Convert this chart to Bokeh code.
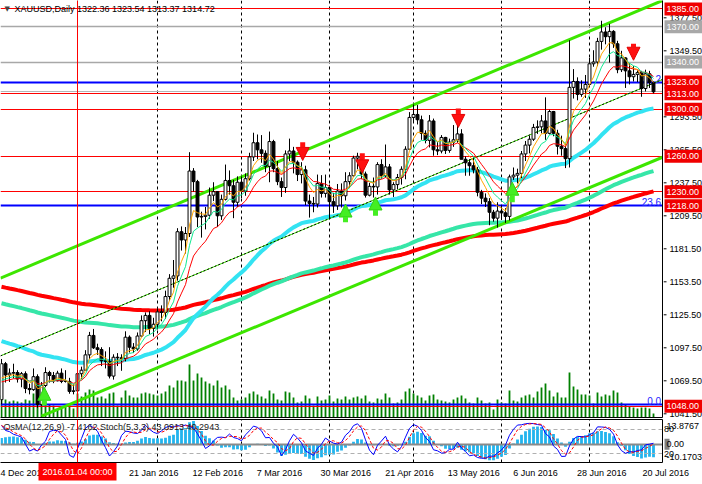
import numpy as np
from bokeh.plotting import figure
from bokeh.layouts import column, row
from bokeh.models import (Range1d, LinearAxis, FixedTicker, Label, Arrow, NormalHead, Span)
from bokeh.embed import file_html
from bokeh.resources import INLINE
from bokeh.core.properties import value

# ---------------- data (XAUUSD daily, 4 Dec 2015 .. 25 Jul 2016) ----------------
opens = [
1053.5, 1084.0, 1074.5, 1076.0, 1076.5, 1071.0, 1075.5, 1063.0, 1062.0, 1073.0,
1049.5, 1065.5, 1076.5, 1074.0, 1069.5, 1076.0, 1069.0, 1069.0, 1060.5, 1061.0,
1075.5, 1078.5, 1091.5, 1108.0, 1097.5, 1096.0, 1086.5, 1086.0, 1073.5, 1089.5,
1089.0, 1088.5, 1106.5, 1098.0, 1096.5, 1107.5, 1120.5, 1125.0, 1114.0, 1117.5,
1128.0, 1127.5, 1141.0, 1156.5, 1158.5, 1196.0, 1189.0, 1194.5, 1247.5, 1238.5,
1208.5, 1209.0, 1210.0, 1227.0, 1230.0, 1209.5, 1223.5, 1239.5, 1235.0, 1221.0,
1238.0, 1230.5, 1241.0, 1259.5, 1271.5, 1265.5, 1262.5, 1251.5, 1272.5, 1249.5,
1238.5, 1233.5, 1262.0, 1264.5, 1255.0, 1244.5, 1248.5, 1222.0, 1220.0, 1219.5,
1237.0, 1228.5, 1233.5, 1221.5, 1218.0, 1230.5, 1226.5, 1238.5, 1243.5, 1258.5,
1260.0, 1245.0, 1227.0, 1234.5, 1234.0, 1253.0, 1243.5, 1251.0, 1231.5, 1236.0,
1242.0, 1249.0, 1266.0, 1293.0, 1295.5, 1291.0, 1279.5, 1273.5, 1290.0, 1265.5,
1264.5, 1276.0, 1265.0, 1272.0, 1274.0, 1279.0, 1257.5, 1254.5, 1252.0, 1248.5,
1229.5, 1224.5, 1221.5, 1212.5, 1207.5, 1213.5, 1212.0, 1209.0, 1242.5, 1244.0,
1245.5, 1262.0, 1269.5, 1274.5, 1284.5, 1285.0, 1290.0, 1279.5, 1298.0, 1279.5,
1268.5, 1266.5, 1258.0, 1318.5, 1323.5, 1312.5, 1317.0, 1321.0, 1338.5, 1340.0,
1357.5, 1365.5, 1361.5, 1366.0, 1355.5, 1333.5, 1343.5, 1332.5, 1327.5, 1329.5,
1331.0, 1317.5, 1330.0, 1322.36]
highs = [
1088.0, 1085.5, 1080.0, 1084.0, 1078.5, 1077.0, 1077.5, 1067.0, 1080.0, 1075.0,
1068.5, 1081.0, 1078.0, 1077.0, 1078.0, 1080.0, 1078.5, 1072.0, 1066.5, 1082.5,
1081.5, 1095.5, 1111.0, 1113.5, 1101.0, 1098.0, 1094.5, 1098.0, 1092.0, 1093.0,
1092.0, 1111.5, 1108.0, 1101.5, 1110.5, 1125.0, 1127.5, 1128.5, 1123.0, 1131.0,
1133.5, 1146.0, 1160.0, 1172.0, 1199.0, 1200.5, 1200.0, 1263.5, 1250.0, 1240.0,
1213.0, 1217.0, 1233.5, 1238.0, 1230.5, 1227.5, 1253.0, 1248.0, 1240.0, 1243.0,
1243.0, 1245.5, 1263.0, 1280.0, 1278.5, 1278.0, 1265.0, 1281.0, 1274.0, 1256.0,
1242.0, 1265.0, 1275.0, 1268.0, 1256.5, 1255.0, 1252.0, 1227.5, 1225.5, 1244.5,
1244.0, 1244.5, 1236.0, 1229.0, 1236.5, 1237.0, 1246.5, 1246.5, 1260.5, 1263.0,
1262.0, 1247.0, 1237.5, 1242.0, 1255.0, 1257.5, 1270.0, 1253.5, 1238.0, 1245.0,
1251.5, 1268.5, 1297.5, 1304.0, 1303.5, 1294.5, 1282.0, 1295.0, 1292.0, 1272.0,
1278.0, 1276.5, 1275.0, 1286.5, 1290.5, 1283.0, 1260.0, 1257.5, 1259.0, 1251.0,
1231.5, 1228.5, 1224.5, 1214.5, 1221.0, 1218.5, 1216.0, 1244.5, 1250.5, 1249.5,
1264.5, 1273.0, 1277.5, 1287.5, 1290.5, 1295.0, 1310.0, 1299.5, 1298.5, 1282.5,
1277.5, 1270.5, 1358.5, 1334.0, 1327.0, 1324.5, 1329.0, 1343.5, 1350.0, 1360.5,
1375.0, 1369.5, 1372.5, 1367.0, 1358.0, 1349.5, 1344.0, 1339.0, 1336.5, 1333.0,
1332.5, 1333.5, 1332.5, 1323.54]
lows = [
1049.5, 1068.0, 1068.5, 1071.5, 1068.0, 1064.0, 1059.0, 1058.0, 1061.0, 1046.5,
1048.0, 1064.0, 1068.0, 1067.5, 1069.0, 1067.5, 1068.0, 1058.5, 1058.0, 1060.5,
1071.0, 1078.0, 1088.0, 1096.5, 1091.5, 1082.0, 1080.0, 1071.5, 1070.5, 1082.0,
1078.0, 1086.0, 1093.5, 1093.0, 1095.0, 1106.5, 1111.0, 1109.0, 1107.0, 1113.0,
1120.0, 1122.0, 1137.5, 1148.5, 1154.5, 1180.0, 1177.5, 1191.5, 1230.0, 1200.0,
1191.0, 1198.0, 1207.0, 1222.0, 1200.0, 1206.0, 1222.5, 1227.5, 1207.5, 1217.0,
1224.5, 1226.5, 1239.5, 1256.0, 1257.5, 1254.5, 1246.5, 1238.0, 1246.5, 1235.5,
1225.5, 1229.0, 1256.0, 1245.5, 1239.0, 1237.0, 1218.5, 1208.0, 1212.5, 1216.5,
1225.0, 1225.0, 1206.5, 1212.0, 1214.5, 1216.5, 1222.5, 1233.0, 1242.5, 1249.0,
1240.5, 1225.0, 1226.0, 1225.0, 1227.5, 1241.0, 1242.0, 1227.5, 1225.5, 1232.0,
1236.0, 1240.5, 1265.5, 1288.5, 1287.0, 1274.0, 1271.0, 1267.5, 1260.5, 1261.0,
1262.5, 1262.0, 1263.0, 1268.0, 1271.5, 1257.5, 1243.5, 1243.5, 1245.5, 1226.0,
1219.5, 1217.0, 1201.5, 1204.5, 1199.5, 1206.0, 1203.5, 1205.5, 1240.0, 1237.0,
1241.5, 1256.0, 1262.5, 1273.0, 1279.0, 1279.5, 1274.0, 1278.5, 1277.0, 1261.5,
1260.5, 1250.0, 1250.5, 1309.0, 1307.5, 1310.5, 1309.5, 1319.5, 1336.0, 1336.5,
1350.5, 1355.0, 1339.5, 1352.0, 1330.5, 1331.5, 1318.0, 1321.0, 1323.5, 1323.0,
1310.5, 1315.0, 1318.0, 1313.37]
closes = [
1084.0, 1074.5, 1076.0, 1076.5, 1071.0, 1075.5, 1063.0, 1062.0, 1073.0, 1049.5,
1065.5, 1076.5, 1074.0, 1069.5, 1076.0, 1069.0, 1069.0, 1060.5, 1061.0, 1075.5,
1078.5, 1091.5, 1108.0, 1097.5, 1096.0, 1086.5, 1086.0, 1073.5, 1089.5, 1089.0,
1088.5, 1106.5, 1098.0, 1096.5, 1107.5, 1120.5, 1125.0, 1114.0, 1117.5, 1128.0,
1127.5, 1141.0, 1156.5, 1158.5, 1196.0, 1189.0, 1194.5, 1247.5, 1238.5, 1208.5,
1209.0, 1210.0, 1227.0, 1230.0, 1209.5, 1223.5, 1239.5, 1235.0, 1221.0, 1238.0,
1230.5, 1241.0, 1259.5, 1271.5, 1265.5, 1262.5, 1251.5, 1272.5, 1249.5, 1238.5,
1233.5, 1262.0, 1264.5, 1255.0, 1244.5, 1248.5, 1222.0, 1220.0, 1219.5, 1237.0,
1228.5, 1233.5, 1221.5, 1218.0, 1230.5, 1226.5, 1238.5, 1243.5, 1258.5, 1260.0,
1245.0, 1227.0, 1234.5, 1234.0, 1253.0, 1243.5, 1251.0, 1231.5, 1236.0, 1242.0,
1249.0, 1266.0, 1293.0, 1295.5, 1291.0, 1279.5, 1273.5, 1290.0, 1265.5, 1264.5,
1276.0, 1265.0, 1272.0, 1274.0, 1279.0, 1257.5, 1254.5, 1252.0, 1248.5, 1229.5,
1224.5, 1221.5, 1212.5, 1207.5, 1213.5, 1212.0, 1209.0, 1242.5, 1244.0, 1245.5,
1262.0, 1269.5, 1274.5, 1284.5, 1285.0, 1290.0, 1279.5, 1298.0, 1279.5, 1268.5,
1266.5, 1258.0, 1318.5, 1323.5, 1312.5, 1317.0, 1321.0, 1338.5, 1340.0, 1357.5,
1365.5, 1361.5, 1366.0, 1355.5, 1333.5, 1343.5, 1332.5, 1327.5, 1329.5, 1331.0,
1317.5, 1330.0, 1322.5, 1314.72]
volumes = [  # tick volume, thousands
88, 72, 64, 68, 64, 60, 72, 68, 96, 88,
76, 64, 52, 48, 32, 40, 44, 48, 36, 96,
84, 100, 112, 108, 80, 84, 76, 96, 100, 48,
80, 108, 88, 80, 80, 96, 100, 96, 92, 88,
96, 104, 128, 120, 148, 148, 144, 212, 148, 176,
160, 144, 136, 128, 148, 120, 128, 112, 80, 68,
72, 80, 96, 104, 92, 84, 76, 108, 96, 72,
68, 104, 100, 80, 60, 64, 88, 76, 48, 84,
68, 72, 88, 64, 76, 72, 84, 72, 80, 84,
76, 88, 64, 60, 76, 72, 96, 80, 56, 60,
72, 104, 116, 96, 88, 80, 68, 88, 92, 72,
68, 64, 60, 72, 80, 88, 76, 60, 56, 80,
68, 56, 60, 32, 72, 60, 56, 108, 68, 64,
80, 88, 92, 80, 104, 120, 136, 108, 84, 100,
80, 80, 180, 124, 112, 92, 92, 88, 56, 100,
84, 92, 88, 108, 100, 60, 52, 44, 40, 36,
40, 40, 36, 16]

date_tick_idx = [0, 32, 48, 64, 80, 96, 112, 128, 144, 160]
date_tick_labels = ["4 Dec 2015", "21 Jan 2016", "12 Feb 2016", "7 Mar 2016", "30 Mar 2016",
                    "21 Apr 2016", "13 May 2016", "6 Jun 2016", "28 Jun 2016", "20 Jul 2016"]
month_start_idx = [19, 39, 60, 82, 103, 125, 147]
cursor_idx = 19
cursor_label = "2016.01.04 00:00"

price_ticks = [1041.5, 1069.5, 1097.5, 1125.5, 1153.5, 1181.5, 1209.5, 1237.5,
               1265.5, 1293.5, 1321.5, 1349.5, 1377.5]
red_levels = [1385, 1313, 1300, 1260, 1230, 1048]
gray_levels = [1370, 1340]
red_boxes = [1385, 1323, 1313, 1300, 1260, 1230, 1218, 1048]
gray_boxes = [1370, 1340]
fib_low, fib_high = 1049.0, 1765.0
fib_ratios = [0.0, 0.236, 0.382]

# channel trend lines: (i0, p0, i1, p1)
channel_upper = (0, 1157.0, 163, 1389.0)
channel_mid = (0, 1091.0, 163, 1322.0)
channel_lower = (10, 1039.5, 163, 1256.0)

# signal arrows (bar index, tail price, tip price)
down_arrows = [(75.3, 1272.0, 1256.5), (90.2, 1262.5, 1246.0), (114.2, 1300.5, 1284.5), (158.0, 1355.5, 1341.5)]
up_arrows = [(10.7, 1048.5, 1064.0), (86.0, 1204.0, 1219.5), (93.5, 1209.5, 1225.5), (127.7, 1221.0, 1238.0)]

# MA periods and starting values read at the left edge
ma_seed_thin = 1066.0
ma_thick = [(200, 1150.0, "#FF0000"), (144, 1136.0, "#36E6A8"), (50, 1104.0, "#33E3F2")]
ma_thin = [(13, "#FF0000"), (8, "#10E890"), (5, "#FFA500")]
macd_seed = (1070.0, 1082.0, -14.0)
osma_lo, osma_hi = -10.1703, 13.8767
stoch_levels = [80, 20]
sub_title = "OsMA(12,26,9) -7.4162  Stoch(5,3,3) 43.0913 40.2943"

# ---------------- indicators ----------------
n = len(closes)
idx = np.arange(n)
o = np.array(opens); h = np.array(highs); l = np.array(lows); c = np.array(closes)


def ema(vals, period, seed):
    a = 2.0 / (period + 1)
    e = seed
    out = []
    for v in vals:
        e += a * (v - e)
        out.append(e)
    return np.array(out)


macd = ema(c, 12, macd_seed[0]) - ema(c, 26, macd_seed[1])
ext = np.concatenate([np.full(8, macd_seed[2]), macd])
signal = np.array([ext[i:i + 9].mean() for i in range(n)])
osma = macd - signal

hh = np.array([h[max(0, i - 4):i + 1].max() for i in range(n)])
ll = np.array([l[max(0, i - 4):i + 1].min() for i in range(n)])
num = c - ll
den = hh - ll
st_main = np.array([100 * num[max(0, i - 2):i + 1].sum() / max(den[max(0, i - 2):i + 1].sum(), 1e-9) for i in range(n)])
st_sig = np.array([st_main[max(0, i - 2):i + 1].mean() for i in range(n)])

# ---------------- layout constants ----------------
FONT = "Liberation Sans"
FW = 662          # chart frame width
SW = 39           # price-scale strip width
FH_MAIN = 417
FH_SUB = 43
BAR_PX = 4.0
x_range = Range1d(-0.25, 165.25)
strip_x = Range1d(0, SW)
price_range = Range1d(1038.36, 1392.2)


def blank_axis(ax):
    ax.ticker = FixedTicker(ticks=[])
    ax.major_tick_out = 0
    ax.major_tick_in = 0
    ax.minor_tick_out = 0
    ax.minor_tick_in = 0
    ax.major_label_standoff = 0
    ax.axis_line_color = "black"


def strip_figure(height, y_range, top, bottom):
    f = figure(frame_width=SW, frame_height=height, x_range=strip_x, y_range=y_range,
               output_backend="svg", toolbar_location=None, x_axis_location=None, y_axis_location=None,
               min_border_left=0, min_border_right=0, min_border_top=top, min_border_bottom=bottom,
               outline_line_color=None, background_fill_color="white", border_fill_color="white")
    f.grid.visible = False
    return f


# ================= main chart =================
p = figure(frame_width=FW, frame_height=FH_MAIN, x_range=x_range, y_range=price_range,
           output_backend="svg", toolbar_location=None, y_axis_location="right", x_axis_location="below",
           min_border_left=0, min_border_right=1, min_border_top=0, min_border_bottom=1,
           outline_line_color=None, background_fill_color="white", border_fill_color="white")
p.extra_y_ranges = {"vol": Range1d(0, 417 * 4)}
blank_axis(p.yaxis[0])
blank_axis(p.xaxis[0])
p.xgrid.ticker = FixedTicker(ticks=month_start_idx)
p.xgrid.grid_line_color = "black"
p.xgrid.grid_line_dash = "3 3"
p.ygrid.grid_line_color = None

# volumes
p.vbar(x=idx, top=volumes, bottom=0, width=0.45, fill_color="#008000", line_color=None, y_range_name="vol")

# horizontal levels
p.hspan(y=gray_levels, line_color="#A8A8A8", line_width=1.5)
p.hspan(y=[c[-1]], line_color="#B4B4B4", line_width=1)
p.hspan(y=red_levels, line_color="#FF0000", line_width=1.2)
fib_vals = [fib_low + r * (fib_high - fib_low) for r in fib_ratios]
p.hspan(y=fib_vals, line_color="#0000FF", line_width=2)
p.text(x=[164.9] * 3, y=fib_vals, text=["%.1f" % (r * 100) for r in fib_ratios],
       text_align="right", text_baseline="bottom", text_font=value(FONT),
       text_font_size="10px", text_color="#2323FF")

# thick moving averages
for per, seed, col in ma_thick:
    p.line(idx, ema(c, per, seed), line_color=col, line_width=4)


def ray(seg, x_end=165.25):
    i0, p0, i1, p1 = seg
    k = (p1 - p0) / (i1 - i0)
    xs = [i0 if i0 > 0 else -0.25, x_end]
    return xs, [p0 + k * (x - i0) for x in xs]


for seg in (channel_upper, channel_lower):
    xs, ys = ray(seg)
    p.line(xs, ys, line_color="#3DE600", line_width=3)
xs, ys = ray(channel_mid)
p.line(xs, ys, line_color="#3DE600", line_width=1)
p.line(xs, ys, line_color="black", line_width=1, line_dash="2 2")

# candles
p.segment(x0=idx, y0=l, x1=idx, y1=h, line_color="black", line_width=1)
bull = c >= o
p.vbar(x=idx[bull], top=c[bull], bottom=o[bull], width=0.72, fill_color="white", line_color="black", line_width=1)
p.vbar(x=idx[~bull], top=o[~bull], bottom=c[~bull], width=0.72, fill_color="black", line_color="black", line_width=1)

# thin moving averages
for per, col in ma_thin:
    p.line(idx, ema(c, per, ma_seed_thin), line_color=col, line_width=1)

# arrows
for x, t0, t1 in down_arrows:
    p.add_layout(Arrow(end=NormalHead(size=13, fill_color="#FF1010", line_color="#E00000", line_width=1),
                       x_start=x, y_start=t0, x_end=x, y_end=t1, line_color="#FF1010", line_width=5))
for x, t0, t1 in up_arrows:
    p.add_layout(Arrow(end=NormalHead(size=13, fill_color="#44EE22", line_color="#30D010", line_width=1),
                       x_start=x, y_start=t0, x_end=x, y_end=t1, line_color="#44EE22", line_width=5))

p.add_layout(Span(location=cursor_idx, dimension="height", line_color="#FF0000", line_width=1))

p.add_layout(Label(x=4, y=FH_MAIN - 8, x_units="screen", y_units="screen", text="\u25BC",
                   text_font="DejaVu Sans", text_font_size="7px", text_baseline="middle"))
p.add_layout(Label(x=14, y=FH_MAIN - 8, x_units="screen", y_units="screen",
                   text="XAUUSD,Daily  %.2f %.2f %.2f %.2f" % (opens[-1], highs[-1], lows[-1], closes[-1]),
                   text_font=FONT, text_font_size="9px", text_baseline="middle", text_color="black"))

# ---- price scale strip ----
pr = strip_figure(FH_MAIN, price_range, 0, 1)
pr.segment(x0=[0] * len(price_ticks), x1=[3] * len(price_ticks), y0=price_ticks, y1=price_ticks,
           line_color="black", line_width=1)
pr.text(x=[6] * len(price_ticks), y=price_ticks, text=["%.2f" % t for t in price_ticks],
        text_align="left", text_baseline="middle", text_font=value(FONT), text_font_size="9px",
        text_color="black")
for levels, col in ((red_boxes, "#F00000"), (gray_boxes, "#A8A8A8")):
    pr.rect(x=[SW / 2 + 0.5] * len(levels), y=levels, width=SW - 1, height=13, height_units="screen",
            fill_color=col, line_color=None)
    pr.text(x=[3] * len(levels), y=levels, text=["%.2f" % v for v in levels],
            text_align="left", text_baseline="middle", text_font=value(FONT), text_font_size="9px",
            text_color="white")

# ================= indicator window =================
stoch_range = Range1d(-0.96, 104.1)
osma_range = Range1d(osma_lo, osma_hi)
s = figure(frame_width=FW, frame_height=FH_SUB, x_range=x_range, y_range=stoch_range,
           output_backend="svg", toolbar_location=None, y_axis_location="right", x_axis_location="below",
           min_border_left=0, min_border_right=1, min_border_top=1, min_border_bottom=1,
           outline_line_color=None, background_fill_color="white", border_fill_color="white")
s.extra_y_ranges = {"osma": osma_range}
blank_axis(s.yaxis[0])
blank_axis(s.xaxis[0])
top_border = LinearAxis()
blank_axis(top_border)
s.add_layout(top_border, "above")

s.xgrid.ticker = FixedTicker(ticks=month_start_idx)
s.xgrid.grid_line_color = "black"
s.xgrid.grid_line_dash = "3 3"
s.ygrid.grid_line_color = None

s.vbar(x=idx, top=osma, bottom=0, width=0.7, fill_color="#22B4EE", line_color=None, y_range_name="osma")
s.hspan(y=[0], line_color="#8A8A8A", line_width=2, y_range_name="osma")
s.hspan(y=stoch_levels, line_color="#B0B0B0", line_width=1, line_dash="4 3")
s.line(idx, st_main, line_color="#0000FF", line_width=1)
s.line(idx, st_sig, line_color="#FF0000", line_width=1, line_dash="3 2")
s.add_layout(Span(location=cursor_idx, dimension="height", line_color="#FF0000", line_width=1))
s.add_layout(Label(x=3, y=FH_SUB - 7, x_units="screen", y_units="screen", text=sub_title,
                   text_font=FONT, text_font_size="9px", text_baseline="middle", text_color="#202020"))

# ---- indicator scale strip ----
sr = strip_figure(FH_SUB, stoch_range, 1, 1)
sr.extra_y_ranges = {"osma": osma_range}
osma_per_px = (osma_hi - osma_lo) / FH_SUB
sr.text(x=[0.5] * len(stoch_levels), y=stoch_levels, text=["%d" % v for v in stoch_levels],
        text_align="left", text_baseline="middle", text_font=value(FONT), text_font_size="9px",
        text_color="black")
sr.rect(x=[3.5], y=[0], width=5, height=11, height_units="screen", fill_color="#808080",
        line_color=None, y_range_name="osma")
sr.text(x=[3, 3, 3], y=[osma_hi - 6 * osma_per_px, 0, osma_lo + 6 * osma_per_px],
        text=["%.4f" % osma_hi, "0.00", "%.4f" % osma_lo], text_align="left", text_baseline="middle",
        text_font=value(FONT), text_font_size="9px", text_color="black", y_range_name="osma")

# ================= time scale (full width, same bar spacing) =================
TW = FW + 1 + SW
d = figure(frame_width=TW, frame_height=1, x_range=Range1d(-0.25, -0.25 + TW / BAR_PX),
           y_range=Range1d(0, 1), output_backend="svg", toolbar_location=None,
           x_axis_location="below", y_axis_location=None,
           min_border_left=0, min_border_right=0, min_border_top=0, min_border_bottom=20,
           outline_line_color=None, background_fill_color="white", border_fill_color="white")
d.grid.visible = False
date_label_pos = [i + 0.55 * len(t) for i, t in zip(date_tick_idx, date_tick_labels)]
ax_dates = d.xaxis[0]
ax_dates.ticker = FixedTicker(ticks=date_label_pos)
ax_dates.major_label_overrides = {x: t for x, t in zip(date_label_pos, date_tick_labels)}
ax_dates.major_label_text_font = FONT
ax_dates.major_label_text_font_size = "9px"
ax_dates.major_label_text_color = "black"
ax_dates.major_tick_out = 0
ax_dates.major_tick_in = 0
ax_dates.minor_tick_out = 0
ax_dates.minor_tick_in = 0
ax_dates.major_label_standoff = 3
ax_dates.axis_line_color = None
# cursor date box: thick tick of an outer axis
d.add_layout(LinearAxis(ticker=FixedTicker(ticks=[cursor_idx]), major_label_overrides={cursor_idx: cursor_label},
                        major_tick_in=19, major_tick_out=0, minor_tick_in=0, minor_tick_out=0,
                        major_tick_line_color="#FF0000", major_tick_line_width=78,
                        axis_line_color=None, major_label_text_color="white", major_label_standoff=-14,
                        major_label_text_font=FONT, major_label_text_font_size="9px"), "below")
d.add_layout(Span(location=cursor_idx, dimension="height", line_color="#FF0000", line_width=1))

layout = column(row(p, pr), row(s, sr), d)
open("out.html", "w").write(file_html(layout, INLINE))
